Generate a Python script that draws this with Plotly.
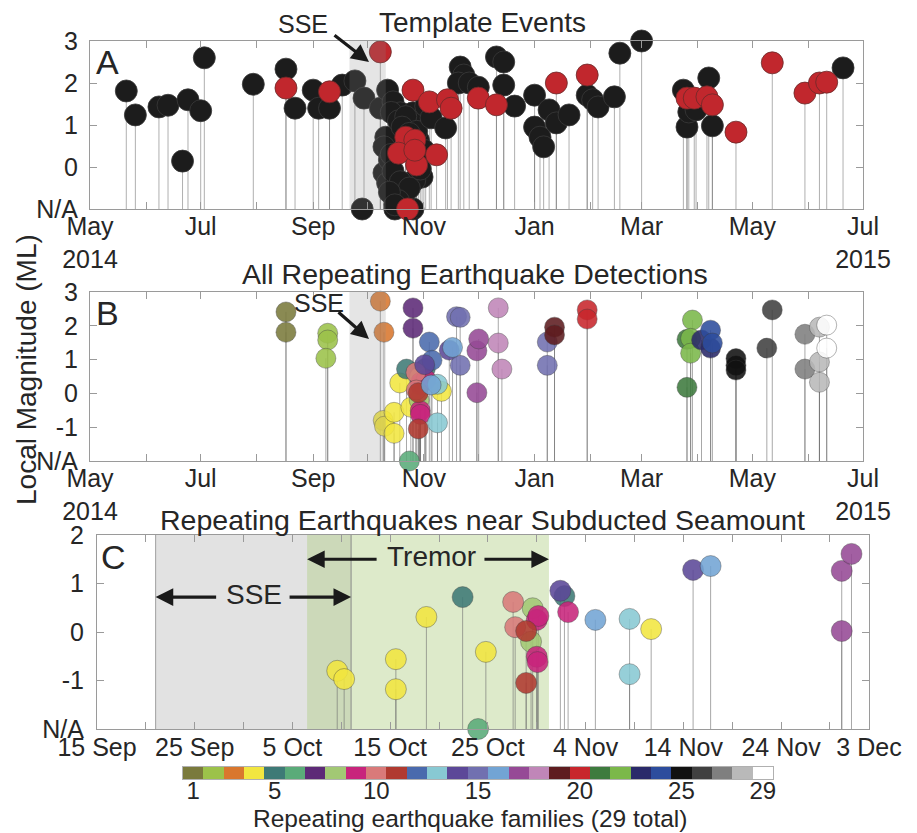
import plotly.graph_objects as go
import pandas as pd

W, H = 917, 833
FONT = "Liberation Sans, Arial, Helvetica, sans-serif"
NARROW = "Liberation Sans Narrow, Liberation Sans, Arial, sans-serif"
TXT = "#262626"
AXIS = "#9a9a9a"

# ---------------- Panel A: template events ----------------
BLACK_DATES = [
    "2014-05-21", "2014-05-26", "2014-06-08", "2014-06-13", "2014-06-21", "2014-06-24",
    "2014-07-01", "2014-07-03", "2014-07-30", "2014-08-17", "2014-08-22", "2014-09-01",
    "2014-09-04", "2014-09-10", "2014-09-17", "2014-09-24", "2014-09-28", "2014-09-29",
    "2014-10-08", "2014-10-12", "2014-10-15", "2014-10-19", "2014-10-26",
    "2014-10-11", "2014-10-10", "2014-10-10", "2014-10-12", "2014-10-17", "2014-10-16",
    "2014-10-26", "2014-10-13", "2014-10-29", "2014-10-31", "2014-10-27",
    "2014-10-14", "2014-10-18", "2014-10-22", "2014-10-20", "2014-10-14", "2014-10-15",
    "2014-10-19", "2014-10-21", "2014-10-24", "2014-10-28", "2014-10-24", "2014-11-01",
    "2014-10-30", "2014-10-18", "2014-10-13", "2014-11-02", "2014-10-16",
    "2014-11-05", "2014-11-13", "2014-11-21", "2014-11-23", "2014-11-20", "2014-11-26",
    "2014-12-01", "2014-12-11", "2014-12-15", "2014-12-15", "2014-12-21", "2015-01-01",
    "2015-01-01", "2015-01-04", "2015-01-06", "2015-01-09", "2015-01-13", "2015-01-20",
    "2015-01-30", "2015-02-02", "2015-02-05", "2015-02-14", "2015-02-17", "2015-03-01",
    "2015-03-24", "2015-03-26", "2015-03-27", "2015-03-31", "2015-04-07", "2015-04-09",
    "2015-06-20",
]
BLACK_MAGS = [
    1.81, 1.24, 1.43, 1.47, 0.14, 1.60,
    1.34, 2.60, 1.97, 2.33, 1.40, 1.83,
    1.40, 1.40, 1.95, 2.05, None, 1.64,
    1.40, 1.83, 1.55, 1.29, 1.29,
    0.71, 0.48, -0.14, -0.38, -0.55, None,
    None, 0.17, 0.64, -0.24, -0.31,
    1.30, 1.10, 1.20, 0.95, 0.30, -0.10,
    -0.35, -0.70, -0.50, 0.85, 0.80, 0.40,
    -0.05, -0.80, -0.60, 1.45, -0.90,
    1.17, 0.93, 2.38, 2.19, 2.00, 2.00,
    1.90, 2.62, 2.50, 1.95, 1.45, 1.71,
    0.95, 0.71, 0.48, 1.36, 1.05, 1.24,
    1.71, 1.60, 1.43, 1.67, 2.71, 3.00,
    1.83, 0.95, 1.31, 1.36, 2.12, 0.98,
    2.36,
]
RED_DATES = [
    "2014-08-17", "2014-09-10", "2014-10-08", "2014-10-26", "2014-11-04", "2014-11-14",
    "2014-11-16", "2014-12-01", "2014-12-11", "2015-01-13", "2015-01-30", "2015-03-26",
    "2015-03-30", "2015-04-06", "2015-04-09", "2015-04-22", "2015-05-12", "2015-05-30",
    "2015-06-07", "2015-06-11", "2014-10-22", "2014-10-27", "2014-10-18", "2014-10-28",
    "2014-11-08", "2014-10-23", "2014-10-27",
]
RED_MAGS = [
    1.88, 1.79, 2.74, 1.83, 1.55, 1.60,
    1.40, 1.64, 1.48, 2.00, 2.19, 1.64,
    1.64, 1.67, 1.48, 0.83, 2.48, 1.76,
    2.00, 2.02, 0.71, 0.64, 0.33, 0.05,
    0.29, None, 0.40,
]

# ---------------- Panels B & C: repeating earthquake families ----------------
FAMILY_COLORS = [
    "#7a7a3c", "#9cc24a", "#d9772e", "#f2e640", "#3e7a76", "#5aab79", "#5d2a77",
    "#a2c874", "#c8257c", "#d97a7a", "#b03a30", "#4a6aad", "#88c9d3", "#5c4898",
    "#7170b0", "#72a4d4", "#964a96", "#c086b8", "#5e1c1f", "#c8262c", "#3e7b3e",
    "#7bb84a", "#2a2a6a", "#2d4d9d", "#111111", "#404040", "#7f7f7f", "#b9b9b9",
    "#ffffff",
]
REPEATER_FAMILY = [
    1, 1,
    2, 2, 2,
    3, 3,
    4, 4, 4, 4, 4, 4, 4,
    5, 5,
    6,
    7, 7,
    8, 8,
    9, 9, 9, 9, 9,
    10, 10,
    11, 11,
    12, 12,
    13, 13,
    14, 14,
    15, 15, 15, 15, 15,
    16, 16,
    17, 17, 17,
    18, 18, 18,
    19, 19,
    20, 20,
    21, 21,
    22, 22, 22,
    23, 23,
    24, 24,
    25, 25, 25,
    26, 26,
    27, 27,
    28, 28, 28,
    29, 29,
]
REPEATER_DATES = [
    "2014-08-17", "2014-08-17",
    "2014-09-09", "2014-09-09", "2014-09-08",
    "2014-10-08", "2014-10-10",
    "2014-10-09 14:00", "2014-10-10 07:00", "2014-10-15 14:00", "2014-10-15 14:00",
    "2014-10-18 17:00", "2014-10-24 19:00", "2014-11-10 17:00",
    "2014-10-22 10:00", "2014-11-01 20:00",
    "2014-10-24 00:00",
    "2014-10-26", "2014-10-26",
    "2014-10-29 14:00", "2014-10-29 10:00",
    "2014-10-30 00:00", "2014-10-30 04:00", "2014-10-30 00:00", "2014-10-30 02:00",
    "2014-11-02 05:00",
    "2014-10-27 14:00", "2014-10-27 19:00",
    "2014-10-28 22:00", "2014-10-28 22:00",
    "2014-11-04", "2014-11-05 12:00",
    "2014-11-08 12:00", "2014-11-08 12:00",
    "2014-11-01 10:00", "2014-11-15 00:00",
    "2014-11-19", "2014-11-21", "2014-11-21", "2015-01-08", "2015-01-08",
    "2014-11-05 00:00", "2014-11-16 19:00",
    "2014-11-30 05:00", "2014-11-30 05:00", "2014-12-01 05:00",
    "2014-12-12", "2014-12-12", "2014-12-14",
    "2015-01-12", "2015-01-12",
    "2015-01-30", "2015-01-30",
    "2015-03-26", "2015-03-26",
    "2015-03-29", "2015-03-28", "2015-03-28",
    "2015-04-03", "2015-04-08",
    "2015-04-08", "2015-04-09",
    "2015-04-22", "2015-04-22", "2015-04-22",
    "2015-05-12", "2015-05-09",
    "2015-05-30", "2015-05-30",
    "2015-06-07", "2015-06-07", "2015-06-07",
    "2015-06-11", "2015-06-11",
]
REPEATER_MAGS = [
    2.41, 1.81,
    1.78, 1.58, 1.04,
    2.73, 1.81,
    -0.80, -0.97, -0.56, -1.18, 0.31, -0.41, 0.06,
    0.72, 0.74,
    None,
    2.53, 1.93,
    0.49, -0.20,
    0.25, 0.33, -0.51, -0.62, 0.41,
    0.62, 0.10,
    0.02, -1.05,
    1.52, 0.98,
    0.27, -0.87,
    0.85, 1.28,
    2.27, 2.25, 0.83, 1.52, 0.83,
    0.25, 1.36,
    1.26, 0.02, 1.61,
    2.53, 1.49, 0.72,
    1.96, 1.73,
    2.47, 2.20,
    1.60, 0.18,
    2.17, 1.63, 1.19,
    1.58, 1.34,
    1.87, 1.49,
    1.03, 0.83, 0.69,
    2.47, 1.34,
    1.75, 0.72,
    1.96, 0.93, 0.33,
    2.02, 1.34,
]
SEAMOUNT_FAMILIES = [4, 5, 6, 8, 9, 10, 11, 13, 14, 16, 17]

SSE_START, SSE_END = "2014-09-21", "2014-10-11"
TREMOR_START, TREMOR_END = "2014-10-06 12:00", "2014-10-31 06:00"

# axis ranges and tick labels
RANGE_AB = ["2014-05-01", "2015-07-01"]
RANGE_C = ["2014-09-15", "2014-12-03"]
MONTH_LABELS = ["May<br>2014", "", "Jul", "", "Sep", "", "Nov", "", "Jan", "", "Mar",
                "", "May", "", "Jul<br>2015"]
C_TICK_DATES = ["2014-09-15", "2014-09-20", "2014-09-25", "2014-09-30", "2014-10-05",
                "2014-10-10", "2014-10-15", "2014-10-20", "2014-10-25", "2014-10-30",
                "2014-11-04", "2014-11-09", "2014-11-14", "2014-11-19", "2014-11-24",
                "2014-11-29", "2014-12-03"]
C_TICK_LABELS = ["15 Sep", "", "25 Sep", "", "5 Oct", "", "15 Oct", "", "25 Oct", "",
                 "4 Nov", "", "14 Nov", "", "24 Nov", "", "3 Dec"]
CBAR_TICKS = [1, 5, 10, 15, 20, 25, 29]

NA_A, NA_B, NA_C = -1, -2, -2


def px(x):
    return x / W


def py(y):
    return 1 - y / H


def fill_na(mags, base):
    return [base if m is None else m for m in mags]


def stems(dates, mags, base):
    xs, ys = [], []
    for d, m in zip(dates, mags):
        xs += [d, d, None]
        ys += [base, m, None]
    return xs, ys


fig = go.Figure()

# ---- Panel A ----
all_dates_a = BLACK_DATES + RED_DATES
all_mags_a = fill_na(BLACK_MAGS + RED_MAGS, NA_A)
sx, sy = stems(all_dates_a, all_mags_a, NA_A)
fig.add_trace(go.Scatter(x=sx, y=sy, mode="lines", xaxis="x", yaxis="y",
                         line=dict(color="rgba(110,110,110,0.55)", width=1),
                         hoverinfo="skip"))
fig.add_trace(go.Scatter(x=BLACK_DATES, y=fill_na(BLACK_MAGS, NA_A), mode="markers",
                         xaxis="x", yaxis="y", cliponaxis=False,
                         marker=dict(size=22, color="#1c1c1c",
                                     line=dict(color="#3a3a3a", width=0.8))))
fig.add_trace(go.Scatter(x=RED_DATES, y=fill_na(RED_MAGS, NA_A), mode="markers",
                         xaxis="x", yaxis="y", cliponaxis=False,
                         marker=dict(size=22, color="#c1272d",
                                     line=dict(color="#6a2a2a", width=0.8))))

# ---- Panel B ----
mags_b = fill_na(REPEATER_MAGS, NA_B)
colors_b = [FAMILY_COLORS[f - 1] for f in REPEATER_FAMILY]
sx, sy = stems(REPEATER_DATES, mags_b, NA_B)
fig.add_trace(go.Scatter(x=sx, y=sy, mode="lines", xaxis="x2", yaxis="y2",
                         line=dict(color="rgba(110,110,110,0.6)", width=1),
                         hoverinfo="skip"))
fig.add_trace(go.Scatter(x=REPEATER_DATES, y=mags_b, mode="markers",
                         xaxis="x2", yaxis="y2", cliponaxis=False,
                         marker=dict(size=20, color=colors_b, opacity=0.88,
                                     line=dict(color="rgba(60,60,60,0.55)", width=0.8))))

# ---- Panel C ----
sel = [i for i, f in enumerate(REPEATER_FAMILY) if f in SEAMOUNT_FAMILIES]
dates_c = [REPEATER_DATES[i] for i in sel]
mags_c = fill_na([REPEATER_MAGS[i] for i in sel], NA_C)
colors_c = [FAMILY_COLORS[REPEATER_FAMILY[i] - 1] for i in sel]
sx, sy = stems(dates_c, mags_c, NA_C)
fig.add_trace(go.Scatter(x=sx, y=sy, mode="lines", xaxis="x3", yaxis="y3",
                         line=dict(color="rgba(110,110,110,0.6)", width=1),
                         hoverinfo="skip"))
fig.add_trace(go.Scatter(x=dates_c, y=mags_c, mode="markers",
                         xaxis="x3", yaxis="y3", cliponaxis=False,
                         marker=dict(size=21, color=colors_c, opacity=0.88,
                                     line=dict(color="rgba(60,60,60,0.55)", width=0.8))))

# ---- Family colour bar ----
n_fam = len(FAMILY_COLORS)
fam_ids = list(range(1, n_fam + 1))
fig.add_trace(go.Heatmap(x=fam_ids, y=[0], z=[fam_ids], xaxis="x4", yaxis="y4",
                         zmin=1, zmax=n_fam, showscale=False, hoverinfo="skip",
                         colorscale=[[i / (n_fam - 1), c] for i, c in enumerate(FAMILY_COLORS)]))

# ---- Axes ----
month_ticks = [d.strftime("%Y-%m-%d") for d in pd.date_range(RANGE_AB[0], RANGE_AB[1], freq="MS")]
common = dict(showline=True, linecolor=AXIS, linewidth=1, mirror="ticks", ticks="inside",
              ticklen=7, tickcolor=AXIS, showgrid=False, zeroline=False, automargin=False,
              tickfont=dict(size=25, color=TXT, family=FONT))
xab = dict(common, type="date", range=RANGE_AB, tickmode="array",
           tickvals=month_ticks, ticktext=MONTH_LABELS, ticklabelstandoff=-5)

fig.update_layout(
    width=W, height=H, margin=dict(l=0, r=0, t=0, b=0, autoexpand=False),
    paper_bgcolor="white", plot_bgcolor="white", showlegend=False,
    font=dict(family=FONT, color=TXT, size=25),
    xaxis=dict(xab, domain=[px(90), px(863)], anchor="y"),
    yaxis=dict(common, domain=[py(209), py(41)], anchor="x", range=[NA_A, 3],
               tickvals=[NA_A, 0, 1, 2, 3], ticktext=["N/A", "0", "1", "2", "3"],
               ticklabelstandoff=6),
    xaxis2=dict(xab, domain=[px(90), px(863)], anchor="y2"),
    yaxis2=dict(common, domain=[py(461), py(292)], anchor="x2", range=[NA_B, 3],
                tickvals=[NA_B, -1, 0, 1, 2, 3], ticktext=["N/A", "-1", "0", "1", "2", "3"],
                ticklabelstandoff=6),
    xaxis3=dict(common, type="date", range=RANGE_C, domain=[px(97), px(869)], anchor="y3",
                tickmode="array", tickvals=C_TICK_DATES, ticktext=C_TICK_LABELS,
                ticklabelstandoff=-4),
    yaxis3=dict(common, domain=[py(729), py(535)], anchor="x3", range=[NA_C, 2],
                tickvals=[NA_C, -1, 0, 1, 2], ticktext=["N/A", "-1", "0", "1", "2"],
                ticklabelstandoff=7),
    xaxis4=dict(domain=[px(183), px(773)], anchor="y4", range=[0.5, n_fam + 0.5],
                showline=True, linecolor="#b0b0b0", mirror=True, ticks="", showgrid=False,
                zeroline=False, tickmode="array", tickvals=CBAR_TICKS, automargin=False,
                tickfont=dict(size=24, color=TXT, family=NARROW), ticklabelstandoff=-10),
    yaxis4=dict(domain=[py(779), py(767)], anchor="x4", range=[-0.5, 0.5],
                showline=True, linecolor="#b0b0b0", mirror=True, showticklabels=False,
                ticks="", showgrid=False, zeroline=False, automargin=False),
)

# ---- Shaded SSE / tremor windows ----
shapes = [
    dict(type="rect", xref="x", yref="y domain", x0=SSE_START, x1=SSE_END, y0=0, y1=1,
         fillcolor="rgba(137,137,137,0.22)", line=dict(width=0), layer="above"),
    dict(type="rect", xref="x2", yref="y2 domain", x0=SSE_START, x1=SSE_END, y0=0, y1=1,
         fillcolor="rgba(137,137,137,0.22)", line=dict(width=0), layer="above"),
    dict(type="rect", xref="x3", yref="y3 domain", x0=SSE_START, x1=SSE_END, y0=0, y1=1,
         fillcolor="#e2e2e2", line=dict(width=0), layer="below"),
    dict(type="rect", xref="x3", yref="y3 domain", x0=TREMOR_START, x1=TREMOR_END, y0=0, y1=1,
         fillcolor="rgba(175,205,130,0.425)", line=dict(width=0), layer="below"),
    dict(type="line", xref="x3", yref="y3 domain", x0=SSE_START, x1=SSE_START, y0=0, y1=1,
         line=dict(color="#a0a0a0", width=1), layer="below"),
    dict(type="line", xref="x3", yref="y3 domain", x0=SSE_END, x1=SSE_END, y0=0, y1=1,
         line=dict(color="#8a8a8a", width=1), layer="below"),
]
fig.update_layout(shapes=shapes)

# ---- Text and arrows ----
def label(text, x, y, size, family=FONT, angle=0):
    return dict(text=text, x=px(x), y=py(y), xref="paper", yref="paper", showarrow=False,
                xanchor="center", yanchor="middle", textangle=angle,
                font=dict(size=size, color=TXT, family=family))


def arrow(x, y, xref, yref, ax, ay):
    return dict(text="", x=x, y=y, xref=xref, yref=yref, ax=ax, ay=ay, axref="pixel",
                ayref="pixel", showarrow=True, arrowhead=2, arrowsize=1.1, arrowwidth=3.2,
                arrowcolor="#1a1a1a")


annotations = [
    label("Template Events", 482, 22, 28),
    label("All Repeating Earthquake Detections", 475, 274, 28.5),
    label("Repeating Earthquakes near Subducted Seamount", 482, 520, 28.5),
    label("A", 107, 62, 34),
    label("B", 107, 313, 34),
    label("C", 113, 557, 34),
    label("SSE", 303, 24, 25),
    label("SSE", 319, 303, 25),
    label("SSE", 254, 594, 28),
    label("Tremor", 431, 556, 28),
    label("Local Magnitude (ML)", 27, 370, 28, angle=-90),
    label("Repeating earthquake families (29 total)", 470, 818, 24.5, family=NARROW),
    arrow(px(369), py(62), "paper", "paper", -36, -28),
    arrow(px(369), py(339), "paper", "paper", -32, -28),
    arrow(SSE_START, 0.72, "x3", "y3", 62, 0),
    arrow(SSE_END, 0.72, "x3", "y3", -63, 0),
    arrow(TREMOR_START, 1.5, "x3", "y3", 71, 0),
    arrow(TREMOR_END, 1.5, "x3", "y3", -66, 0),
]
fig.update_layout(annotations=annotations)

fig.write_html("out.html")
